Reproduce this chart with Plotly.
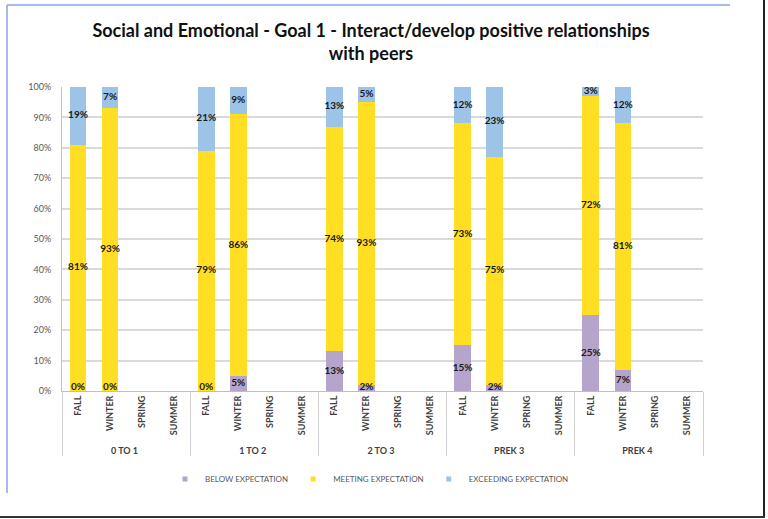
import plotly.graph_objects as go

groups = ["0 TO 1", "1 TO 2", "2 TO 3", "PREK 3", "PREK 4"]
seasons = ["FALL", "WINTER", "SPRING", "SUMMER"]

# values per group: FALL, WINTER, SPRING, SUMMER (None = no data)
below = [0, 0, None, None, 0, 5, None, None, 13, 2, None, None, 15, 2, None, None, 25, 7, None, None]
meeting = [81, 93, None, None, 79, 86, None, None, 74, 93, None, None, 73, 75, None, None, 72, 81, None, None]
exceeding = [19, 7, None, None, 21, 9, None, None, 13, 5, None, None, 12, 23, None, None, 3, 12, None, None]

series_names = ["BELOW EXPECTATION", "MEETING EXPECTATION", "EXCEEDING EXPECTATION"]
colors = ["#B5A5CC", "#FFDE24", "#9DC3E6"]
y_ticks = [0, 10, 20, 30, 40, 50, 60, 70, 80, 90, 100]
y_tick_labels = [f"{v}%" for v in y_ticks]

x_outer = [g for g in groups for _ in seasons]
x_inner = [s for _ in groups for s in seasons]
x = [x_outer, x_inner]

fig = go.Figure()
series = [below, meeting, exceeding]
for name, vals, col in zip(series_names, series, colors):
    fig.add_trace(go.Bar(
        x=x, y=vals, name=name, showlegend=False,
        marker=dict(color=col, line=dict(width=0)),
    ))
# small square legend keys
for name, col in zip(series_names, colors):
    fig.add_trace(go.Scatter(
        x=[None], y=[None], mode="markers", name=name,
        marker=dict(symbol="square", size=5, color=col),
    ))

# labels at segment centres
lx0, lx1, ly, lt = [], [], [], []
for i in range(len(x_inner)):
    base = 0
    for vals in series:
        v = vals[i]
        if v is None:
            continue
        lx0.append(x_outer[i]); lx1.append(x_inner[i])
        ly.append(base + v / 2 if v > 0 else 1)
        lt.append(f"{v}%")
        base += v
fig.add_trace(go.Scatter(
    x=[lx0, lx1], y=ly, text=lt, mode="text", showlegend=False,
    textfont=dict(family="Lato", size=10, color="#1a1a1a", weight="bold"),
    hoverinfo="skip", cliponaxis=False,
))

W, H = 768, 519
PL, PR, PT, PB = 62, 703, 87, 391   # plot area in screen pixels
L, R, T, B = PL, W - PR, PT, H - PB
pw, ph = W - L - R, H - T - B
def px(xs): return (xs - L) / pw
def py(ys): return (H - B - ys) / ph

shapes = [
    dict(type="line", xref="paper", yref="paper", x0=px(7), x1=px(730), y0=py(5), y1=py(5),
         line=dict(color="#8aa0e6", width=1.5)),
    dict(type="line", xref="paper", yref="paper", x0=px(7), x1=px(7), y0=py(5), y1=py(493),
         line=dict(color="#8aa0e6", width=1.5)),
    dict(type="line", xref="paper", yref="paper", x0=px(764), x1=px(764), y0=py(0), y1=py(518),
         line=dict(color="#222222", width=2)),
    dict(type="line", xref="paper", yref="paper", x0=px(0), x1=px(765), y0=py(517), y1=py(517),
         line=dict(color="#333333", width=2)),
]

fig.update_layout(
    width=W, height=H,
    margin=dict(l=L, r=R, t=T, b=B, autoexpand=False),
    barmode="stack", bargap=0.48,
    paper_bgcolor="white", plot_bgcolor="white",
    title=dict(text="Social and Emotional - Goal 1 - Interact/develop positive relationships<br>with peers",
               x=371 / W, xanchor="center", y=1 - 37 / H, yanchor="middle",
               font=dict(family="Lato", size=18, color="#111111", weight="bold")),
    legend=dict(orientation="h", x=px(165), xanchor="left", y=py(479), yanchor="middle",
                font=dict(family="Lato", size=8, color="#595959"),
                traceorder="normal", tracegroupgap=0, itemwidth=30),
    shapes=shapes,
    showlegend=True,
)
fig.update_yaxes(range=[0, 100], tickvals=y_ticks, ticktext=y_tick_labels,
                 showgrid=True, gridcolor="#d9d9d9", gridwidth=1.5,
                 showline=True, linecolor="#bfbfbf", automargin=False, ticklabelstandoff=8,
                 tickfont=dict(family="Lato", size=9, color="#595959"))
fig.update_xaxes(type="multicategory", range=[-0.5, 19.5], autorange=False,
                 tickangle=-90, showline=True, linecolor="#bfbfbf",
                 dividercolor="#d0d0d0", dividerwidth=1, showdividers=True, automargin=False,
                 tickfont=dict(family="Lato", size=9, color="#404040", weight="bold"))

fig.write_html("out.html", config={"displayModeBar": False},
               post_script="document.body.style.margin='0';")
